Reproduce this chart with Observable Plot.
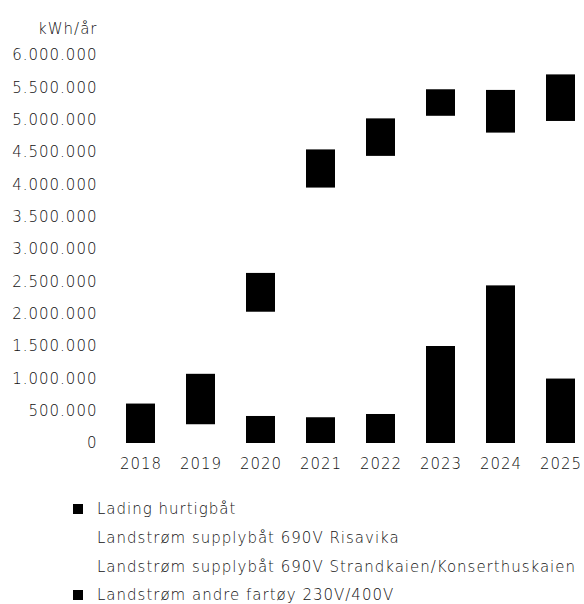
<!DOCTYPE html>
<html><head><meta charset="utf-8">
<script src="https://cdn.jsdelivr.net/npm/d3@7"></script>
<script src="https://cdn.jsdelivr.net/npm/@observablehq/plot@0.6"></script>
<style>
body{margin:0;background:#fff;font-family:"DejaVu Sans",sans-serif;color:#111;}
#legend{padding-top:15px;margin-left:73px;font-size:15px;font-weight:200;letter-spacing:1px;}
.row{height:28.7px;display:flex;align-items:center;}
.sw{width:10px;height:10px;margin-right:14px;flex:none;}
svg text{font-weight:200;letter-spacing:1px;}
</style></head><body><div id="chart"></div><div id="legend"></div><script>
const years = ["2018","2019","2020","2021","2022","2023","2024","2025"];
const series = ["Lading hurtigbåt","Landstrøm supplybåt 690V Risavika","Landstrøm supplybåt 690V Strandkaien/Konserthuskaien","Landstrøm andre fartøy 230V/400V"];
const ladingHurtigbat = [0, 0, 420000, 400000, 450000, 1500000, 2440000, 1000000];
const risavika = [0, 290000, 1300000, 3000000, 3400000, 3000000, 1900000, 3400000];
const strandkaien = [0, 0, 310000, 550000, 590000, 560000, 460000, 580000];
const andreFartoy = [610000, 780000, 600000, 590000, 580000, 410000, 660000, 720000];
const colors = ["#000000","#ffffff","#ffffff","#000000"];
const yTicks = [0,500000,1000000,1500000,2000000,2500000,3000000,3500000,4000000,4500000,5000000,5500000,6000000];
const unit = "kWh/år";

const valuesBySeries = [ladingHurtigbat, risavika, strandkaien, andreFartoy];
const data = [];
series.forEach((s, i) => years.forEach((y, j) => data.push({year: y, series: s, value: valuesBySeries[i][j]})));
const fmt = d3.formatLocale({decimal: ",", thousands: ".", grouping: [3], currency: ["", ""]}).format(",");

const chart = Plot.plot({
  width: 584, height: 480,
  marginLeft: 124, marginRight: 6, marginTop: 55, marginBottom: 37,
  style: {fontFamily: "DejaVu Sans, sans-serif", fontSize: "15px", color: "#111", background: "#fff"},
  x: {domain: years, paddingInner: 0.51, paddingOuter: 0, label: null, tickSize: 0, tickPadding: 15},
  y: {domain: [0, 6000000], ticks: yTicks, tickFormat: fmt, label: null, tickSize: 0, tickPadding: 27},
  color: {domain: series, range: colors},
  marks: [
    Plot.barY(data, {x: "year", y: "value", fill: "series"}),
    Plot.text([unit], {frameAnchor: "top-left", dx: -27, dy: -32, textAnchor: "end", fill: "#111"})
  ]
});
document.getElementById("chart").append(chart);

const legend = document.getElementById("legend");
series.forEach((s, i) => {
  const row = document.createElement("div"); row.className = "row";
  const sw = document.createElement("span"); sw.className = "sw"; sw.style.background = colors[i];
  const t = document.createElement("span"); t.textContent = s;
  row.append(sw, t); legend.append(row);
});
</script></body></html>
